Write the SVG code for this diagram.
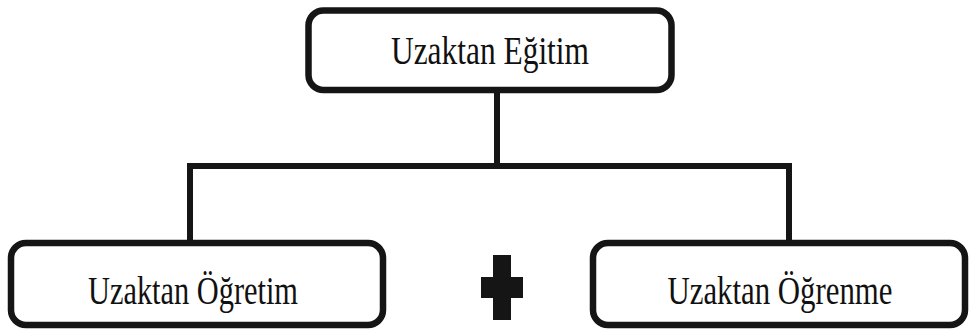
<svg xmlns="http://www.w3.org/2000/svg" width="969" height="329" viewBox="0 0 969 329">
<style>
.box{fill:#fff;stroke:#151515;stroke-width:6.5}
.conn{stroke:#151515;stroke-width:6;fill:none;stroke-linecap:square}
.lbl{font-family:"Liberation Serif","Times New Roman",serif;fill:#111;text-anchor:middle}
</style>
<rect width="969" height="329" fill="#fff"/>
<g id="connectors">
<path class="conn" d="M497 92 V166 M190 166 H789 M190 166 V241"/>
<path class="conn" d="M789 166 V241"/>
</g>
<g id="top">
<rect class="box" x="308.5" y="10.5" width="363" height="79.5" rx="15"/>
<text class="lbl" x="490" y="64" font-size="39" textLength="198" lengthAdjust="spacingAndGlyphs">Uzaktan Eğitim</text>
</g>
<g id="left">
<rect class="box" x="11" y="243" width="372" height="82" rx="15"/>
<text class="lbl" x="193" y="304" font-size="41" textLength="210" lengthAdjust="spacingAndGlyphs">Uzaktan Öğretim</text>
</g>
<g id="plus">
<path d="M493 255 H511 V277 H523 V298 H511 V320 H493 V298 H481 V277 H493 Z" fill="#151515"/>
</g>
<g id="right">
<rect class="box" x="593" y="243" width="372" height="82" rx="15"/>
<text class="lbl" x="780" y="304" font-size="41" textLength="225" lengthAdjust="spacingAndGlyphs">Uzaktan Öğrenme</text>
</g>
</svg>
